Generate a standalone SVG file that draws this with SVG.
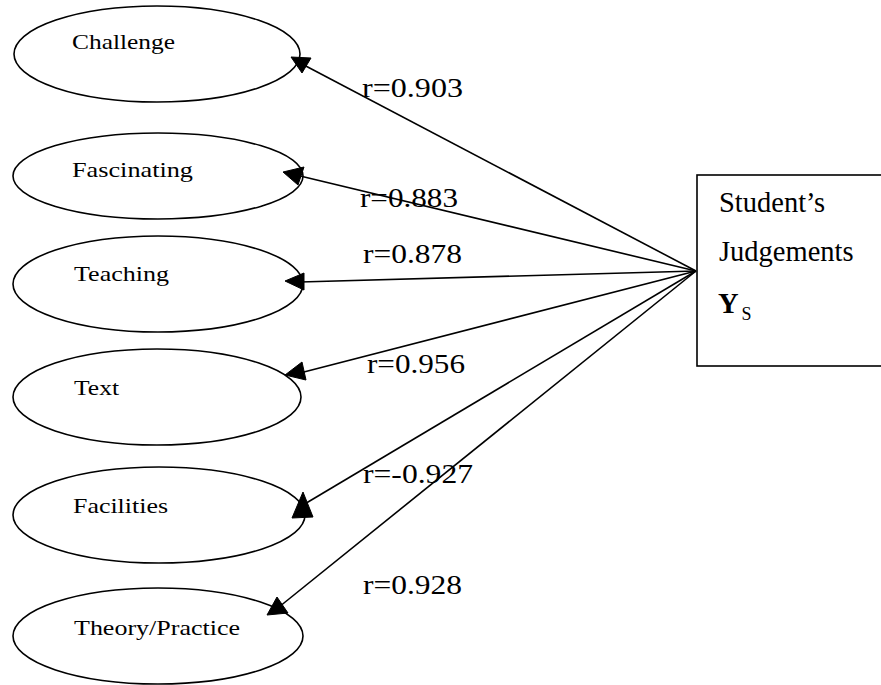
<svg xmlns="http://www.w3.org/2000/svg" width="881" height="685" viewBox="0 0 881 685">
  <style>
    .node ellipse { fill: #ffffff; stroke: #000000; stroke-width: 1.6; }
    .box rect { fill: #ffffff; stroke: #000000; stroke-width: 1.6; }
    .lbl { font-family: "Liberation Serif", "Times New Roman", serif; font-size: 22px; fill: #000000; }
    .big { font-family: "Liberation Serif", "Times New Roman", serif; font-size: 27px; fill: #000000; }
    .box .big { font-size: 28.5px; }
    .edge line { stroke: #000000; stroke-width: 1.6; }
    .edge polygon { fill: #000000; stroke: #000000; stroke-width: 1; stroke-linejoin: round; }
  </style>
  <rect width="881" height="685" fill="#ffffff"/>

  <!-- factor nodes -->
  <g id="challenge" class="node">
    <ellipse cx="157" cy="54" rx="143" ry="48"/>
    <text class="lbl" x="72" y="49" textLength="103" lengthAdjust="spacingAndGlyphs">Challenge</text>
  </g>
  <g id="fascinating" class="node">
    <ellipse cx="158" cy="176" rx="145" ry="43"/>
    <text class="lbl" x="72" y="177" textLength="121" lengthAdjust="spacingAndGlyphs">Fascinating</text>
  </g>
  <g id="teaching" class="node">
    <ellipse cx="158" cy="284" rx="145" ry="48"/>
    <text class="lbl" x="74" y="281" textLength="95" lengthAdjust="spacingAndGlyphs">Teaching</text>
  </g>
  <g id="text" class="node">
    <ellipse cx="157" cy="397" rx="144" ry="48"/>
    <text class="lbl" x="74" y="395" textLength="45" lengthAdjust="spacingAndGlyphs">Text</text>
  </g>
  <g id="facilities" class="node">
    <ellipse cx="159" cy="515" rx="146" ry="48"/>
    <text class="lbl" x="73" y="513" textLength="95" lengthAdjust="spacingAndGlyphs">Facilities</text>
  </g>
  <g id="theory-practice" class="node">
    <ellipse cx="158" cy="636" rx="145" ry="48"/>
    <text class="lbl" x="74" y="635" textLength="166" lengthAdjust="spacingAndGlyphs">Theory/Practice</text>
  </g>

  <!-- outcome node -->
  <g id="judgements" class="box">
    <rect x="697" y="175" width="200" height="191"/>
    <text class="big" x="719" y="212">Student’s</text>
    <text class="big" x="719" y="261">Judgements</text>
    <text class="big" x="718" y="313" font-weight="bold">Y<tspan font-size="18" font-weight="normal" dx="3" dy="7">S</tspan></text>
  </g>

  <!-- correlation connectors -->
  <g id="connectors" class="edge">
    <line x1="696" y1="271" x2="302" y2="64"/>
    <polygon points="291,57 311,58 302,73"/>
    <line x1="696" y1="271" x2="296" y2="175"/>
    <polygon points="283,172 304,167 298,185"/>
    <line x1="696" y1="271" x2="300" y2="282"/>
    <polygon points="285,281 304,273 304,290"/>
    <line x1="696" y1="271" x2="300" y2="373"/>
    <polygon points="285,375 302,362 306,380"/>
    <line x1="696" y1="271" x2="303" y2="505"/>
    <polygon points="303,492 292,518 313,517"/>
    <line x1="696" y1="271" x2="279" y2="607"/>
    <polygon points="277,597 267,615 288,613"/>
  </g>

  <!-- correlation labels -->
  <g id="labels">
    <text class="big" x="362" y="97" textLength="101" lengthAdjust="spacingAndGlyphs">r=0.903</text>
    <text class="big" x="360" y="207" textLength="98" lengthAdjust="spacingAndGlyphs">r=0.883</text>
    <text class="big" x="363" y="263" textLength="99" lengthAdjust="spacingAndGlyphs">r=0.878</text>
    <text class="big" x="367" y="373" textLength="98" lengthAdjust="spacingAndGlyphs">r=0.956</text>
    <text class="big" x="363" y="483" textLength="110" lengthAdjust="spacingAndGlyphs">r=-0.927</text>
    <text class="big" x="363" y="594" textLength="99" lengthAdjust="spacingAndGlyphs">r=0.928</text>
  </g>
</svg>
